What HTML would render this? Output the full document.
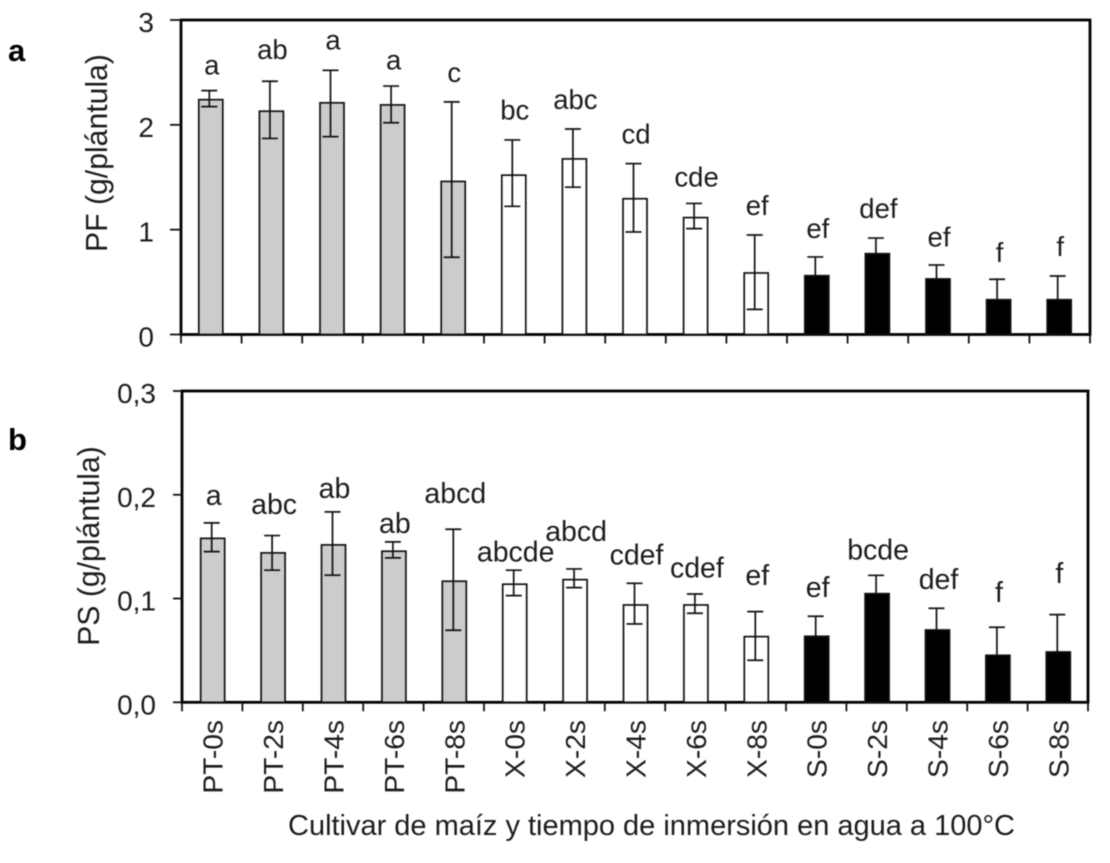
<!DOCTYPE html>
<html lang="es">
<head>
<meta charset="utf-8">
<title>PF y PS por cultivar de maíz y tiempo de inmersión</title>
<style>
html,body{margin:0;padding:0;background:#fff;width:1110px;height:863px;overflow:hidden}
svg{display:block;filter:blur(0.5px)}
text{font-family:"Liberation Sans",Arial,sans-serif;fill:#1c1c1c}
</style>
</head>
<body>
<svg id="chart" xmlns="http://www.w3.org/2000/svg" width="1110" height="863" viewBox="0 0 1110 863">
<text x="8" y="61" font-size="31" font-weight="700" style="fill:#000">a</text>
<text x="8" y="450" font-size="31" font-weight="700" style="fill:#000">b</text>
<text x="288" y="835" font-size="29" textLength="727" lengthAdjust="spacing">Cultivar de maíz y tiempo de inmersión en agua a 100°C</text>
<text transform="translate(107 153) rotate(-90)" text-anchor="middle" font-size="30.2">PF (g/plántula)</text>
<text transform="translate(99 546) rotate(-90)" text-anchor="middle" font-size="30.2">PS (g/plántula)</text>
</svg>
<script>
const categories = ['PT-0s','PT-2s','PT-4s','PT-6s','PT-8s','X-0s','X-2s','X-4s','X-6s','X-8s','S-0s','S-2s','S-4s','S-6s','S-8s'];
const cultivarGroups = ['PT','PT','PT','PT','PT','X','X','X','X','X','S','S','S','S','S'];

const pfValues = [2.24,2.13,2.21,2.19,1.46,1.52,1.675,1.295,1.115,0.587,0.561,0.771,0.53,0.332,0.332];
const pfErrorHigh = [2.326,2.416,2.52,2.37,2.219,1.856,1.96,1.63,1.25,0.949,0.74,0.92,0.663,0.527,0.558];
const pfErrorLow = [2.174,1.87,1.887,2.02,0.737,1.223,1.405,0.978,1.01,0.24,null,null,null,null,null];
const pfLetters = ['a','ab','a','a','c','bc','abc','cd','cde','ef','ef','def','ef','f','f'];
const pfLetterLevels = [2.48,2.63,2.72,2.53,2.41,2.05,2.15,1.82,1.41,1.14,0.92,1.11,0.84,0.69,0.75];
const pfTicks = [0,1,2,3];
const pfTickLabels = ['0','1','2','3'];

const psValues = [0.158,0.144,0.1517,0.1456,0.1167,0.1138,0.1182,0.0938,0.0938,0.0633,0.0636,0.1047,0.0697,0.0453,0.0485];
const psErrorHigh = [0.1729,0.1607,0.1835,0.1546,0.1668,0.1273,0.1285,0.1147,0.1044,0.0874,0.0829,0.1224,0.0906,0.0723,0.0845];
const psErrorLow = [0.1452,0.1273,0.1225,0.1392,0.0694,0.1028,0.1105,0.0755,0.0858,0.0405,null,null,null,null,null];
const psLetters = ['a','abc','ab','ab','abcd','abcde','abcd','cdef','cdef','ef','ef','bcde','def','f','f'];
const psLetterLevels = [0.1901,0.1815,0.1969,0.1631,0.192,0.1356,0.1555,0.1329,0.1203,0.1129,0.1017,0.1378,0.1094,0.0966,0.1149];
const psTicks = [0,0.1,0.2,0.3];
const psTickLabels = ['0,0','0,1','0,2','0,3'];

const svg = document.getElementById('chart');
const NS = 'http://www.w3.org/2000/svg';
const groupFill = {PT:'#cccccc', X:'#ffffff', S:'#000000'};

function mk(tag, attrs, parent) {
  const el = document.createElementNS(NS, tag);
  for (const k in attrs) el.setAttribute(k, attrs[k]);
  parent.appendChild(el);
  return el;
}

function drawPanel(p) {
  const g = mk('g', {}, svg);
  
  
  const yMax = p.ticks[p.ticks.length - 1];
  const y = v => p.bottom - (v / yMax) * (p.bottom - p.top);
  const band = (p.right - p.left) / categories.length;
  const barX = i => p.left + (i + 0.5) * band + p.barShift;
  const errX = i => barX(i) + p.errShift;

  // frame
  const frame = mk('rect', {
    x:p.left, y:p.top, width:p.right-p.left, height:p.bottom-p.top,
    fill:'none', stroke:'#000', 'stroke-width':2.8
  }, g);
  
  

  // bars
  categories.forEach((c, i) => {
    const bar = mk('rect', {
      x: barX(i) - 12, y: y(p.values[i]), width: 24,
      height: p.bottom - y(p.values[i]),
      fill: groupFill[cultivarGroups[i]], stroke: '#111', 'stroke-width': 1.7
    }, g);
    
    
  });

  // error bars
  categories.forEach((c, i) => {
    const hi = p.errHigh[i];
    const lo = p.errLow[i] === null ? p.values[i] : p.errLow[i];
    const eg = mk('g', {stroke:'#111', 'stroke-width':1.7, fill:'none'}, g);
    
    
    const ex = errX(i);
    mk('line', {x1:ex, x2:ex, y1:y(hi), y2:y(lo)}, eg);
    mk('line', {x1:ex-8, x2:ex+8, y1:y(hi), y2:y(hi)}, eg);
    if (p.errLow[i] !== null) mk('line', {x1:ex-8, x2:ex+8, y1:y(lo), y2:y(lo)}, eg);
  });

  // y ticks
  p.ticks.forEach((t, i) => {
    const tick = mk('line', {x1:p.left-p.yTickLen, x2:p.left, y1:y(t), y2:y(t), stroke:'#111', 'stroke-width':1.8}, g);
    
    
    const lab = mk('text', {x:p.yLabelX, y:y(t)+p.yLabelDy, 'text-anchor':'end', 'font-size':28}, g);
    lab.textContent = p.tickLabels[i];
    
    
  });

  // x ticks
  for (let i = 0; i <= categories.length; i++) {
    const tx = p.left + i * band;
    const tick = mk('line', {x1:tx, x2:tx, y1:p.bottom, y2:p.bottom+9, stroke:'#111', 'stroke-width':1.8}, g);
    
    
  }

  // significance letters
  categories.forEach((c, i) => {
    const t = mk('text', {x:barX(i)+1, y:y(p.levels[i]), 'text-anchor':'middle', 'font-size':p.letterSize}, g);
    t.textContent = p.letters[i];
    
    
  });

  // category labels
  if (p.showCategories) {
    categories.forEach((c, i) => {
      const bx = barX(i) + 10;
      const t = mk('text', {transform:'translate(' + bx + ' 720) rotate(-90)', 'text-anchor':'end', 'font-size':28.2}, g);
      t.textContent = c;
      
      
    });
  }
}

drawPanel({
  id:'panel-a', left:181, right:1090, top:20, bottom:334.5,
  barShift:-0.5, errShift:-1.5, yTickLen:11, yLabelX:154, yLabelDy:12,
  letterSize:27.5, ticks:pfTicks, tickLabels:pfTickLabels,
  values:pfValues, errHigh:pfErrorHigh, errLow:pfErrorLow,
  letters:pfLetters, levels:pfLetterLevels, showCategories:false
});
drawPanel({
  id:'panel-b', left:182, right:1088, top:391, bottom:702.3,
  barShift:0.5, errShift:-1, yTickLen:9, yLabelX:156, yLabelDy:12,
  letterSize:28.5, ticks:psTicks, tickLabels:psTickLabels,
  values:psValues, errHigh:psErrorHigh, errLow:psErrorLow,
  letters:psLetters, levels:psLetterLevels, showCategories:true
});
</script>
</body>
</html>
